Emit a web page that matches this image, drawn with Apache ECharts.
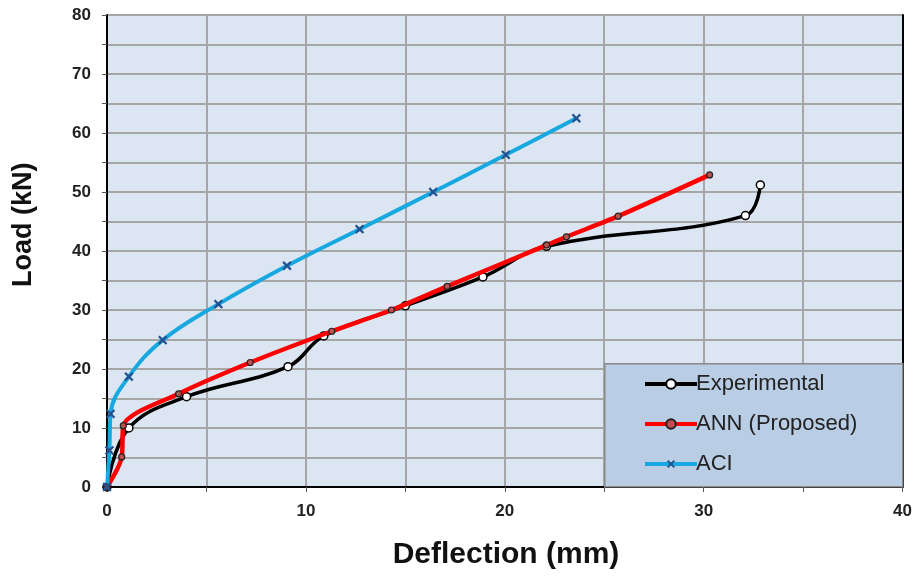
<!DOCTYPE html>
<html><head><meta charset="utf-8">
<script src="https://cdn.jsdelivr.net/npm/echarts@6/dist/echarts.min.js"></script>
<style>html,body{margin:0;padding:0;background:#fff}#c{width:915px;height:578px}</style>
</head><body><div id="c"></div>
<script>
// Deflection (mm) and Load (kN)
var expDefl = [0, 1.1, 4.0, 9.1, 10.9, 15.0, 18.9, 22.1, 32.1, 32.85];
var expLoad = [0, 10.0, 15.3, 20.4, 25.6, 30.7, 35.6, 40.8, 46.0, 51.2];
var annDefl = [0, 0.74, 0.82, 3.6, 7.2, 11.3, 14.3, 17.1, 22.1, 23.1, 25.7, 30.3];
var annLoad = [0, 5.1, 10.4, 15.8, 21.1, 26.4, 30.0, 34.0, 41.0, 42.4, 45.9, 52.9];
var aciDefl = [0, 0.12, 0.18, 1.1, 2.8, 5.6, 9.05, 12.7, 16.4, 20.05, 23.6];
var aciLoad = [0, 6.2, 12.4, 18.7, 24.9, 31.0, 37.5, 43.7, 50.0, 56.3, 62.5];
var xTicks = [0, 10, 20, 30, 40];
var yTicks = [0, 10, 20, 30, 40, 50, 60, 70, 80];

function pairs(a, b){ return a.map(function(v,i){ return [v, b[i]]; }); }
var FONT = '"Liberation Sans", Arial, sans-serif';
var xPath = 'path://M4,0H6V4H10V6H6V10H4V6H0V4H4Z';

var chart = echarts.init(document.getElementById('c'));
chart.setOption({
  animation: false,
  backgroundColor: '#fff',
  grid: {left: 107, right: 12, top: 15, bottom: 91, show: true, backgroundColor: '#dce6f2', borderWidth: 0},
  xAxis: {
    type: 'value', min: 0, max: 40, interval: 5,
    axisLine: {lineStyle: {color: '#000', width: 2}},
    axisTick: {show: true, length: 5, lineStyle: {color: '#555'}},
    axisLabel: {fontFamily: FONT, fontWeight: 'bold', fontSize: 17, color: '#222', margin: 16,
      formatter: function(v){ return xTicks.indexOf(v) >= 0 ? String(v) : ''; }},
    splitLine: {show: true, lineStyle: {color: '#a6a6a6', width: 2}}
  },
  yAxis: [{
    type: 'value', min: 0, max: 80, interval: 5,
    axisLine: {show: true, lineStyle: {color: '#000', width: 2}},
    axisTick: {show: true, length: 5, lineStyle: {color: '#555'}},
    axisLabel: {fontFamily: FONT, fontWeight: 'bold', fontSize: 17, color: '#222', margin: 16,
      formatter: function(v){ return yTicks.indexOf(v) >= 0 ? String(v) : ''; }},
    splitLine: {show: true, lineStyle: {color: '#a6a6a6', width: 2}}
  }, {
    type: 'value', min: 0, max: 80, interval: 5, position: 'right',
    axisLine: {show: true, lineStyle: {color: '#000', width: 2}},
    axisTick: {show: false}, axisLabel: {show: false}, splitLine: {show: false}
  }],
  legend: {
    orient: 'vertical', left: 638, top: 368, itemGap: 18, itemWidth: 52, itemHeight: 12,
    lineStyle: {width: 4},
    textStyle: {fontFamily: FONT, fontSize: 22, color: '#222', padding: [0,0,0,-6]},
    data: ['Experimental', 'ANN (Proposed)', 'ACI'], z: 10
  },
  graphic: [
    {type: 'rect', z: 5, left: 604, top: 363,
      shape: {width: 298, height: 123},
      style: {fill: '#b9cde5', stroke: '#8a8a8a', lineWidth: 1.5}},
    {type: 'text', z: 5, x: 506, y: 540,
      style: {text: 'Deflection (mm)', font: 'bold 30px "Liberation Sans", Arial, sans-serif', fill: '#111',
        align: 'center', verticalAlign: 'top'}},
    {type: 'text', z: 5, x: 10, y: 287, rotation: Math.PI / 2,
      style: {text: 'Load (kN)', font: 'bold 27px "Liberation Sans", Arial, sans-serif', fill: '#111',
        align: 'left', verticalAlign: 'top'}}
  ],
  series: [
    {name: 'Experimental', type: 'line', smooth: 0.4, data: pairs(expDefl, expLoad),
      lineStyle: {color: '#000', width: 3.5}, symbol: 'circle', symbolSize: 8,
      itemStyle: {color: '#fff', borderColor: '#000', borderWidth: 1.5}, z: 2},
    {name: 'ANN (Proposed)', type: 'line', smooth: 0.3, data: pairs(annDefl, annLoad),
      lineStyle: {color: '#ff0000', width: 4.5}, symbol: 'circle', symbolSize: 6,
      itemStyle: {color: '#c0504d', borderColor: '#222', borderWidth: 1.2}, z: 3},
    {name: 'ACI', type: 'line', smooth: 0.4, data: pairs(aciDefl, aciLoad),
      lineStyle: {color: '#18a8e0', width: 4}, symbol: xPath, symbolSize: 11, symbolRotate: 45,
      itemStyle: {color: '#24508f'}, z: 3}
  ]
});
</script></body></html>
